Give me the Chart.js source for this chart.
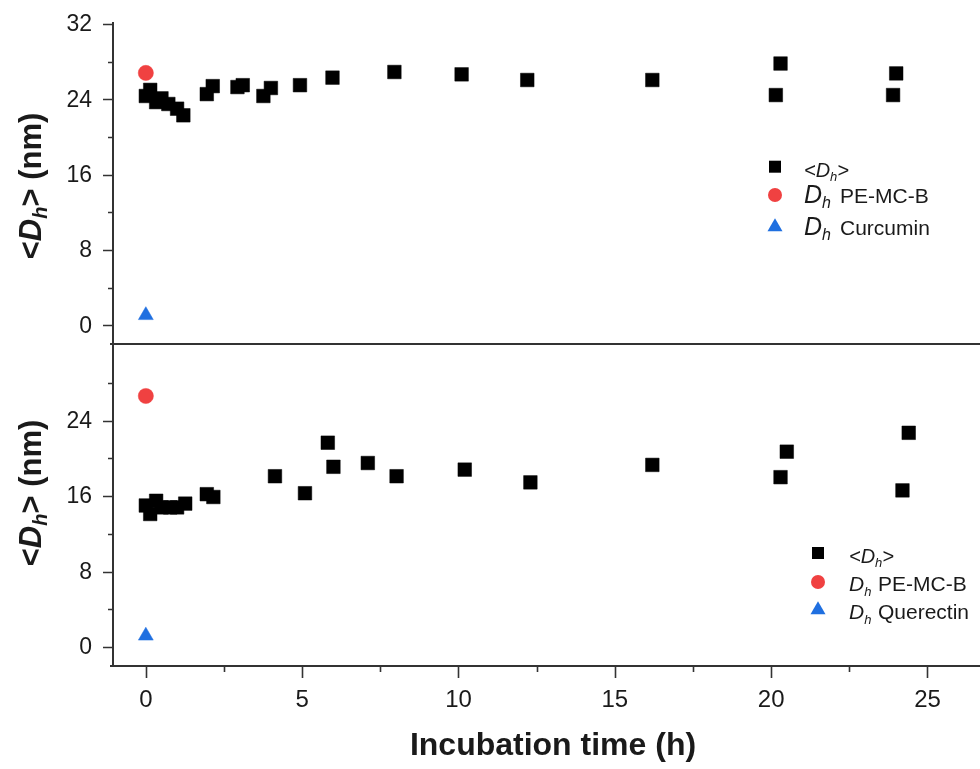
<!DOCTYPE html>
<html>
<head>
<meta charset="utf-8">
<script src="https://cdn.jsdelivr.net/npm/chart.js@4.4.0/dist/chart.umd.min.js"></script>
<style>
  html, body { margin: 0; padding: 0; background: #fff; }
  #wrap { position: relative; width: 980px; height: 769px; overflow: hidden; }
  #wrap canvas { position: absolute; left: 0; top: 0; }
</style>
</head>
<body>
<div id="wrap">
  <canvas id="topChart" width="980" height="769"></canvas>
  <canvas id="bottomChart" width="980" height="769"></canvas>
</div>
<script>
// top panel: PE-MC-B + curcumin
const topTimes = [0, 0.14, 0.33, 0.5, 0.72, 1.0, 1.2, 1.95, 2.14, 2.93, 3.1, 3.76, 4.0, 4.93, 5.97, 7.95, 10.1, 12.2, 16.2, 20.15, 20.3, 23.9, 24.0];
const topDh = [24.35, 25.0, 23.7, 24.1, 23.5, 23.0, 22.3, 24.55, 25.4, 25.3, 25.5, 24.35, 25.2, 25.5, 26.3, 26.9, 26.65, 26.05, 26.05, 24.45, 27.8, 24.45, 26.75];
const topPolymer = [26.8];   // Dh PE-MC-B at t = 0
const topDrug = [1.05];      // Dh Curcumin at t = 0

// bottom panel: PE-MC-B + querectin
const bottomTimes = [0, 0.14, 0.33, 0.5, 0.78, 1.0, 1.26, 1.95, 2.16, 4.13, 5.09, 5.82, 6.0, 7.1, 8.02, 10.2, 12.3, 16.2, 20.3, 20.5, 24.2, 24.4];
const bottomDh = [15.0, 14.1, 15.5, 14.8, 14.8, 14.8, 15.2, 16.2, 15.9, 18.1, 16.3, 21.65, 19.1, 19.5, 18.1, 18.8, 17.45, 19.3, 18.0, 20.7, 16.6, 22.7];
const bottomPolymer = [26.6];
const bottomDrug = [1.2];

const xMajorTicks = [0, 5, 10, 15, 20, 25];
const xMinorTicks = [2.5, 7.5, 12.5, 17.5, 22.5];
const topYMajor = [0, 8, 16, 24, 32];
const bottomYMajor = [0, 8, 16, 24];
const yMinorTicks = [4, 12, 20, 28];

const FONT = "'Liberation Sans', Arial, sans-serif";
const AXIS = "#333";
const RED = "#f04141";
const BLUE = "#1f6fe0";

function pts(xs, ys) {
    return ys.map((y, i) => ({ x: xs[i], y }));
}

function drawRuns(ctx, runs, x, y, center) {
    let total = 0;
    runs.forEach(r => { ctx.font = r.font; total += ctx.measureText(r.text).width; });
    let cx = center ? x - total / 2 : x;
    runs.forEach(r => {
        ctx.font = r.font;
        if (r.at != null) cx = r.at;
        ctx.fillText(r.text, cx, y + (r.dy || 0));
        cx += ctx.measureText(r.text).width;
    });
}

function drawMarker(ctx, style, x, y, size, color) {
    ctx.fillStyle = color;
    ctx.beginPath();
    if (style === "rect") {
        ctx.rect(x - size / 2, y - size / 2, size, size);
    } else if (style === "circle") {
        ctx.arc(x, y, size / 2, 0, Math.PI * 2);
    } else {
        const r = size / 1.732;
        ctx.moveTo(x, y - r);
        ctx.lineTo(x + size / 2, y + r / 2);
        ctx.lineTo(x - size / 2, y + r / 2);
        ctx.closePath();
    }
    ctx.fill();
}

// axes, ticks, titles and legend are drawn by hand so that minor ticks can be shorter
function panelPlugin(cfg) {
    return {
        id: "panel",
        afterDraw(chart) {
            const { ctx, chartArea: a, scales } = chart;
            const xs = scales.x, ys = scales.y;
            ctx.save();
            ctx.strokeStyle = AXIS;
            ctx.lineWidth = 2;
            ctx.beginPath();
            ctx.moveTo(a.left, a.top - 2);
            ctx.lineTo(a.left, a.bottom + 1);
            ctx.moveTo(a.left - 3, a.bottom);
            ctx.lineTo(a.right, a.bottom);
            ctx.stroke();

            ctx.lineWidth = 1.6;
            ctx.beginPath();
            cfg.yMajor.forEach(v => {
                const py = Math.round(ys.getPixelForValue(v)) + 0.5;
                ctx.moveTo(a.left, py); ctx.lineTo(a.left - 10, py);
            });
            yMinorTicks.forEach(v => {
                const py = Math.round(ys.getPixelForValue(v)) + 0.5;
                ctx.moveTo(a.left, py); ctx.lineTo(a.left - 5, py);
            });
            if (cfg.xAxis) {
                xMajorTicks.forEach(v => {
                    const px = Math.round(xs.getPixelForValue(v)) + 0.5;
                    ctx.moveTo(px, a.bottom); ctx.lineTo(px, a.bottom + 12);
                });
                xMinorTicks.forEach(v => {
                    const px = Math.round(xs.getPixelForValue(v)) + 0.5;
                    ctx.moveTo(px, a.bottom); ctx.lineTo(px, a.bottom + 6);
                });
            }
            ctx.stroke();

            ctx.fillStyle = "#1a1a1a";
            ctx.font = "23px " + FONT;
            ctx.textAlign = "right";
            ctx.textBaseline = "middle";
            cfg.yMajor.forEach(v => ctx.fillText(String(v), a.left - 21, ys.getPixelForValue(v) + 1));

            ctx.textBaseline = "alphabetic";
            if (cfg.xAxis) {
                ctx.textAlign = "center";
                ctx.font = "24px " + FONT;
                xMajorTicks.forEach(v => ctx.fillText(String(v), xs.getPixelForValue(v), a.bottom + 41));
                ctx.font = "bold 32px " + FONT;
                ctx.fillText("Incubation time (h)", 553, a.bottom + 89);
            }

            // rotated y title
            ctx.textAlign = "left";
            ctx.save();
            ctx.translate(30, cfg.yTitleY);
            ctx.rotate(-Math.PI / 2);
            drawRuns(ctx, [
                { text: "<", font: "bold 31px " + FONT },
                { text: "D", font: "italic bold 31px " + FONT },
                { text: "h", font: "italic bold 20px " + FONT, dy: 6 },
                { text: "> (nm)", font: "bold 31px " + FONT }
            ], 0, 11, true);
            ctx.restore();

            // legend
            const L = cfg.legend;
            drawMarker(ctx, "rect", L.mx, L.rows[0], 12, "#000");
            drawMarker(ctx, "circle", L.mx, L.rows[1], 14, RED);
            drawMarker(ctx, "triangle", L.mx, L.rows[2], 15, BLUE);
            ctx.fillStyle = "#1a1a1a";
            drawRuns(ctx, [
                { text: "<D", font: "italic 20px " + FONT },
                { text: "h", font: "italic 13px " + FONT, dy: 4 },
                { text: ">", font: "italic 20px " + FONT }
            ], L.tx, L.rows[0] + 10);
            L.names.forEach((name, i) => {
                drawRuns(ctx, [
                    { text: "D", font: "italic " + L.dSize + "px " + FONT },
                    { text: "h", font: "italic " + Math.round(L.dSize * 0.62) + "px " + FONT, dy: 5 },
                    { text: name, font: "21px " + FONT, at: L.nx }
                ], L.tx, L.rows[i + 1] + L.base);
            });
            ctx.restore();
        }
    };
}

function makePanel(id, times, dh, polymer, drug, padTop, padBottom, cfg) {
    return new Chart(document.getElementById(id), {
        type: "scatter",
        data: {
            datasets: [
                {
                    data: pts(times, dh),
                    pointStyle: "rect",
                    pointRadius: 9.6,
                    backgroundColor: "#000",
                    borderColor: "#000",
                    borderWidth: 0.5
                },
                {
                    data: pts([0], polymer),
                    pointStyle: "circle",
                    pointRadius: 7.6,
                    backgroundColor: RED,
                    borderColor: RED,
                    borderWidth: 0.5
                },
                {
                    data: pts([0], drug),
                    pointStyle: "triangle",
                    pointRadius: 8.6,
                    backgroundColor: BLUE,
                    borderColor: BLUE,
                    borderWidth: 0.5
                }
            ]
        },
        options: {
            responsive: false,
            animation: false,
            events: [],
            layout: { autoPadding: false, padding: { left: 113, right: 0, top: padTop, bottom: padBottom } },
            plugins: { legend: { display: false }, tooltip: { enabled: false } },
            scales: {
                x: { type: "linear", min: -1.05, max: 26.68, display: false },
                y: { type: "linear", min: -2, max: 32, display: false }
            }
        },
        plugins: [panelPlugin(cfg)]
    });
}

makePanel("topChart", topTimes, topDh, topPolymer, topDrug, 24, 769 - 344, {
    xAxis: false,
    yMajor: topYMajor,
    yTitleY: 186,
    legend: { mx: 775, tx: 804, nx: 840, dSize: 25, base: 8, rows: [166.7, 195, 227], names: ["PE-MC-B", "Curcumin"] }
});

makePanel("bottomChart", bottomTimes, bottomDh, bottomPolymer, bottomDrug, 345, 769 - 666, {
    xAxis: true,
    yMajor: bottomYMajor,
    yTitleY: 493,
    legend: { mx: 818, tx: 849, nx: 878, dSize: 21, base: 9, rows: [553, 582, 610], names: ["PE-MC-B", "Querectin"] }
});
</script>
</body>
</html>
